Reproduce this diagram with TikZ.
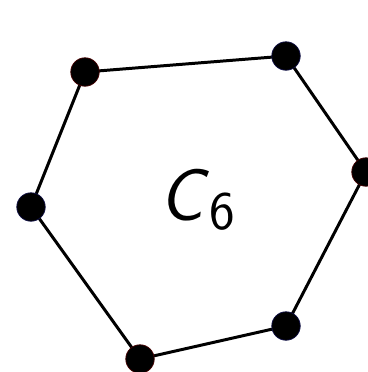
\documentclass[tikz,border=0pt]{standalone}
\usepackage{tikz}
\definecolor{edgeline}{RGB}{0,0,0}
\definecolor{rimred}{RGB}{70,0,0}
\definecolor{rimblue}{RGB}{15,15,70}
\tikzset{
  vtx/.style  ={circle, fill=black, draw=rimred, line width=0.4pt, minimum size=0.57cm, inner sep=0pt},
  vtxb/.style ={vtx, draw=rimblue},
  edg/.style  ={draw=edgeline, line width=1.7pt},
  lab/.style  ={font=\fontsize{42}{48}\selectfont\sffamily, inner sep=1pt},
}
\begin{document}
\begin{tikzpicture}[x=0.02cm,y=-0.02cm]
  \useasboundingbox (0,0) rectangle (368,372);
  % cycle edges first, vertices on top
  \coordinate (p1) at (85,72);
  \coordinate (p2) at (286,56);
  \coordinate (p3) at (366,172);
  \coordinate (p4) at (286,326);
  \coordinate (p5) at (140,359);
  \coordinate (p6) at (31,207);
  \foreach \a/\b in {p1/p2,p2/p3,p3/p4,p4/p5,p5/p6,p6/p1}
    \draw[edg] (\a) -- (\b);
  \node[vtx]  (v1) at (p1) {};
  \node[vtxb] (v2) at (p2) {};
  \node[vtx]  (v3) at (p3) {};
  \node[vtxb] (v4) at (p4) {};
  \node[vtx]  (v5) at (p5) {};
  \node[vtxb] (v6) at (p6) {};
  \node[lab] (c6) at (197,200) {\textit{C}\raisebox{-0.3ex}{\fontsize{31}{36}\selectfont 6}};
\end{tikzpicture}
\end{document}
